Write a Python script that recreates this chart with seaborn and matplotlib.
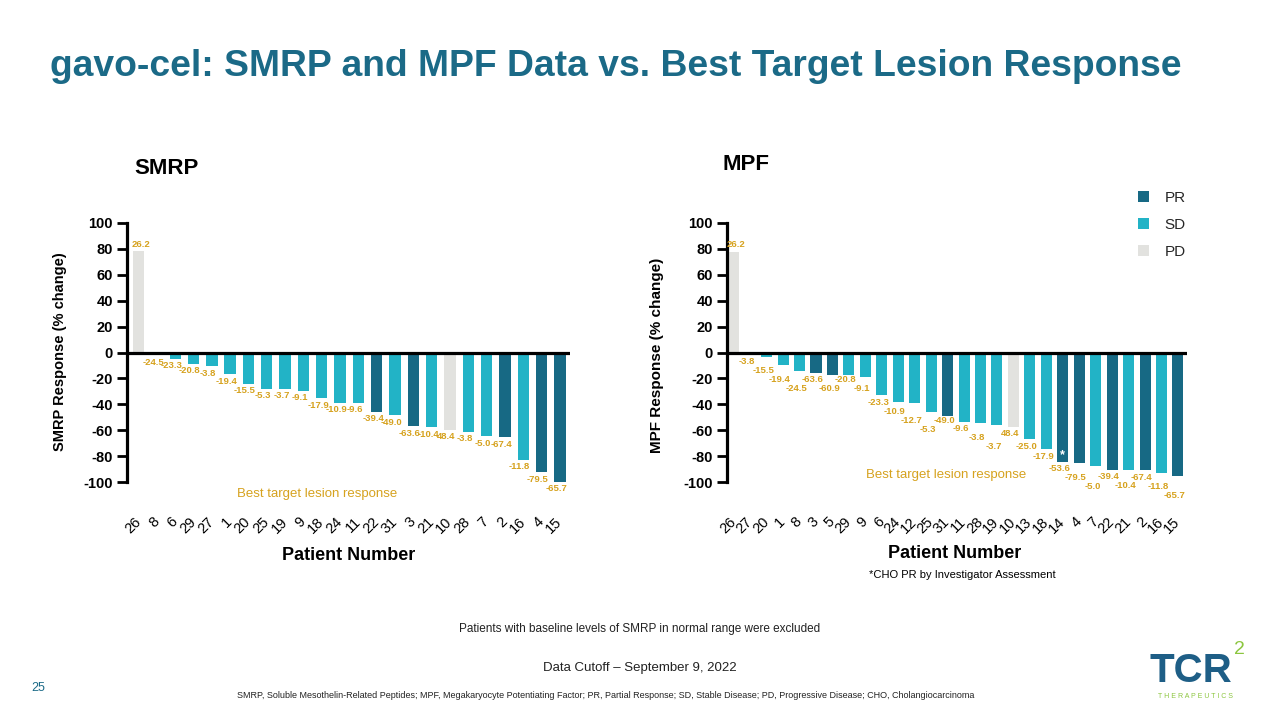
import matplotlib
matplotlib.use('Agg')
import matplotlib.pyplot as plt
import seaborn as sns
import pandas as pd
from matplotlib.patches import Patch

# ---------------- data ----------------
smrp_patients = ['26', '8', '6', '29', '27', '1', '20', '25', '19', '9', '18', '24',
                 '11', '22', '31', '3', '21', '10', '28', '7', '2', '16', '4', '15']
smrp_values = [78, -2, -5, -8.5, -10.5, -16.7, -24, -28, -28, -29.6, -35.5, -38.8,
               -38.8, -45.8, -48.3, -57, -57.6, -59.6, -61.2, -64.8, -65.3, -83, -92.5, -99.7]
smrp_status = ['PD'] + ['SD'] * 12 + ['PR', 'SD', 'PR', 'SD', 'PD', 'SD', 'SD', 'PR', 'SD', 'PR', 'PR']
smrp_lesion = ['26.2', '-24.5', '-23.3', '-20.8', '-3.8', '-19.4', '-15.5', '-5.3', '-3.7', '-9.1',
               '-17.9', '-10.9', '-9.6', '-39.4', '-49.0', '-63.6', '-10.4', '48.4', '-3.8', '-5.0',
               '-67.4', '-11.8', '-79.5', '-65.7']

mpf_patients = ['26', '27', '20', '1', '8', '3', '5', '29', '9', '6', '24', '12', '25', '31',
                '11', '28', '19', '10', '13', '18', '14', '4', '7', '22', '21', '2', '16', '15']
mpf_values = [77.8, -1.8, -3.6, -10, -14.2, -15.5, -17, -17.5, -19.3, -33, -38.1, -38.7, -45.9, -49.2,
              -53.4, -54.6, -56.2, -57.5, -66.8, -74.7, -84.3, -85.6, -87.6, -90.5, -91, -91, -92.8, -95.6]
mpf_status = ['PD', 'SD', 'SD', 'SD', 'SD', 'PR', 'PR', 'SD', 'SD', 'SD', 'SD', 'SD', 'SD', 'PR',
              'SD', 'SD', 'SD', 'PD', 'SD', 'SD', 'PR', 'PR', 'SD', 'PR', 'SD', 'PR', 'SD', 'PR']
mpf_lesion = ['26.2', '-3.8', '-15.5', '-19.4', '-24.5', '-63.6', '-60.9', '-20.8', '-9.1', '-23.3',
              '-10.9', '-12.7', '-5.3', '-49.0', '-9.6', '-3.8', '-3.7', '48.4', '-25.0', '-17.9',
              '-53.6', '-79.5', '-5.0', '-39.4', '-10.4', '-67.4', '-11.8', '-65.7']
mpf_star_patient = '14'

status_order = ['PR', 'SD', 'PD']
y_ticks = list(range(-100, 101, 20))

# ---------------- style ----------------
sns.set_theme(style='white')
plt.rcParams['font.family'] = ['Liberation Sans', 'DejaVu Sans']

PAL = {'PR': '#176984', 'SD': '#22B3C6', 'PD': '#E2E2DF'}
GOLD = '#D6A21E'
TEAL_TITLE = '#1B6A87'

fig = plt.figure(figsize=(12.8, 7.2), dpi=100)
W, H = 1280, 720
PX_PER_UNIT = (482 - 223) / 200.0


def fx(px):
    return px / W


def fy(py):
    return 1 - py / H


ax1 = fig.add_axes([fx(127), fy(482), fx(570 - 127), fy(223) - fy(482)])
ax2 = fig.add_axes([fx(727), fy(482), fx(1187 - 727), fy(223) - fy(482)])


def draw(ax, patients, values, status, lesion, width, xlim, stagger):
    df = pd.DataFrame({'patient': patients, 'value': values, 'status': status})
    sns.barplot(data=df, x='patient', y='value', hue='status', order=patients,
                hue_order=status_order, palette=PAL, dodge=False, width=width,
                saturation=1, legend=False, ax=ax, linewidth=0)
    ax.set_ylim(-100, 100)
    ax.set_xlim(*xlim)
    ax.set_yticks(y_ticks)
    ax.set_yticklabels([str(t) for t in y_ticks], fontsize=10.5, fontweight='bold', color='black')
    ax.axhline(0, color='black', lw=2.3, zorder=5)
    for s in ['top', 'right', 'bottom']:
        ax.spines[s].set_visible(False)
    ax.spines['left'].set_linewidth(2.3)
    ax.spines['left'].set_color('black')
    ax.tick_params(axis='y', left=True, length=7, width=2, color='black', pad=3)
    ax.tick_params(axis='x', bottom=False, length=0, pad=27)
    for lab in ax.get_xticklabels():
        lab.set_rotation(45)
        lab.set_ha('right')
        lab.set_va('center')
        lab.set_rotation_mode('anchor')
        lab.set_fontsize(10.5)
        lab.set_color('black')
    ax.set_xlabel('')
    ax.set_ylabel('')
    # value labels (pixel offsets below the bar end, staggered when crowded)
    prev = None
    for i, (v, t) in enumerate(zip(values, lesion)):
        if v > 0:
            ax.text(i + 0.12, v + 2, t, ha='center', va='bottom', fontsize=6.8,
                    fontweight='bold', color=GOLD)
            prev = None
            continue
        bottom_px = -v * PX_PER_UNIT
        y_px = bottom_px + 7
        if stagger and prev is not None and abs(y_px - prev) < 8:
            above = prev - 9
            if above >= bottom_px + 4:
                y_px = above
            else:
                y_px = prev + 9
        prev = y_px
        ax.text(i - 0.2, -y_px / PX_PER_UNIT, t, ha='center', va='center', fontsize=6.8,
                fontweight='bold', color=GOLD)


draw(ax1, smrp_patients, smrp_values, smrp_status, smrp_lesion, 0.62,
     (-0.63, len(smrp_patients) - 1 + 0.55), False)
draw(ax2, mpf_patients, mpf_values, mpf_status, mpf_lesion, 0.67,
     (-0.41, len(mpf_patients) - 1 + 0.55), True)

# asterisk on the CHO bar
si = mpf_patients.index(mpf_star_patient)
ax2.text(si, mpf_values[si] + 5, '*', ha='center', va='center', color='white',
         fontsize=9, fontweight='bold', zorder=6)

# y labels
fig.text(fx(60), fy(352), 'SMRP Response (% change)', rotation=90, ha='center', va='center',
         fontsize=10.5, fontweight='bold', color='black')
fig.text(fx(657), fy(355), 'MPF Response (% change)', rotation=90, ha='center', va='center',
         fontsize=11, fontweight='bold', color='black')

# x labels
fig.text(fx(349), fy(556), 'Patient Number', ha='center', va='center', fontsize=13,
         fontweight='bold', color='black')
fig.text(fx(955), fy(554), 'Patient Number', ha='center', va='center', fontsize=13,
         fontweight='bold', color='black')
fig.text(fx(962), fy(575), '*CHO PR by Investigator Assessment', ha='center', va='center',
         fontsize=8, color='black')

# best target lesion response notes
fig.text(fx(317), fy(494), 'Best target lesion response', ha='center', va='center',
         fontsize=9.5, color=GOLD)
fig.text(fx(946), fy(475), 'Best target lesion response', ha='center', va='center',
         fontsize=9.5, color=GOLD)

# panel titles
fig.text(fx(134), fy(168), 'SMRP', ha='left', va='center', fontsize=16, fontweight='bold',
         color='black')
fig.text(fx(722), fy(165), 'MPF', ha='left', va='center', fontsize=16, fontweight='bold',
         color='black')

# main title
fig.text(fx(50), fy(66), 'gavo-cel: SMRP and MPF Data vs. Best Target Lesion Response',
         ha='left', va='center', fontsize=26.8, fontweight='bold', color=TEAL_TITLE)

# legend
handles = [Patch(facecolor=PAL[s], edgecolor='none', label=s) for s in status_order]
fig.legend(handles=handles, loc='upper left', bbox_to_anchor=(fx(1124), fy(177)),
           frameon=False, fontsize=11, handlelength=0.75, handleheight=0.75,
           handletextpad=1.0, labelspacing=0.85)

# footer texts
fig.text(fx(640), fy(629), 'Patients with baseline levels of SMRP in normal range were excluded',
         ha='center', va='center', fontsize=8.5, color='#222222')
fig.text(fx(640), fy(668), 'Data Cutoff \u2013 September 9, 2022', ha='center', va='center',
         fontsize=9.5, color='#222222')
fig.text(fx(38), fy(688), '25', ha='center', va='center', fontsize=9, color=TEAL_TITLE)
fig.text(fx(606), fy(695),
         'SMRP, Soluble Mesothelin-Related Peptides; MPF, Megakaryocyte Potentiating Factor; '
         'PR, Partial Response; SD, Stable Disease; PD, Progressive Disease; CHO, Cholangiocarcinoma',
         ha='center', va='center', fontsize=6.5, color='#222222')

# logo
fig.text(fx(1150), fy(671), 'TCR', ha='left', va='center', fontsize=29, fontweight='bold',
         color='#1E5E86')
fig.text(fx(1234), fy(650), '2', ha='left', va='center', fontsize=14,
         color='#8CC63F')
fig.text(fx(1196), fy(696), 'T H E R A P E U T I C S', ha='center', va='center', fontsize=5,
         color='#8CC63F')

fig.savefig('out.png', dpi=100)
